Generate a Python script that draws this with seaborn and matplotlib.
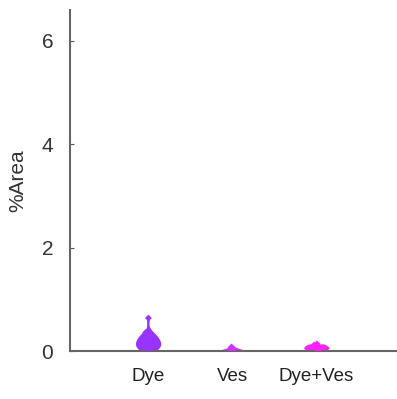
import matplotlib
matplotlib.use("Agg")
import matplotlib.pyplot as plt
import seaborn as sns
import pandas as pd
import numpy as np

categories = ["Dye", "Ves", "Dye+Ves"]
dye_vals = [0.0, 0.02, 0.04, 0.06, 0.08, 0.1, 0.12, 0.14, 0.16, 0.18, 0.2, 0.22, 0.25, 0.28, 0.3, 0.33, 0.36, 0.64]
ves_vals = [0.0, 0.005, 0.01, 0.015, 0.02, 0.02, 0.03, 0.04, 0.05, 0.06, 0.08]
dyeves_vals = [0.01, 0.03, 0.05, 0.06, 0.08, 0.1, 0.12, 0.14]
colors = ["#9933ff", "#cc33ff", "#ff22ff"]

df = pd.DataFrame({
    "group": ["Dye"] * len(dye_vals) + ["Ves"] * len(ves_vals) + ["Dye+Ves"] * len(dyeves_vals),
    "value": dye_vals + ves_vals + dyeves_vals,
})

np.random.seed(3)
plt.rcParams["font.family"] = ["Liberation Sans", "DejaVu Sans"]
fig = plt.figure(figsize=(3.97, 3.99), dpi=100)
ax = fig.add_axes([0.176, 0.12, 0.824, 0.855])

sns.violinplot(data=df, x="group", y="value", hue="group", order=categories,
               palette=colors, inner=None, cut=0, width=0.3, linewidth=0,
               saturation=1, density_norm="width", legend=False, ax=ax)
sns.stripplot(data=df, x="group", y="value", hue="group", order=categories,
              palette=colors, marker="D", size=3.5, jitter=0.03, legend=False, ax=ax)
ax.vlines([0], [0.36], [0.64], colors=colors[0], linewidth=1.2)

ax.set_ylim(0, 6.6)
ax.set_xlim(-0.93, 2.96)
ax.set_yticks([0, 2, 4, 6])
ax.set_xlabel("")
ax.set_ylabel("%Area", fontsize=15, color="#333333", labelpad=10)
ax.tick_params(axis="y", direction="in", length=3, colors="#555555", labelsize=15,
               labelcolor="#333333", pad=12)
ax.tick_params(axis="x", length=0, labelsize=13.5, labelcolor="#222222", pad=12)
for s in ["top", "right"]:
    ax.spines[s].set_visible(False)
for s in ["left", "bottom"]:
    ax.spines[s].set_color("#666666")
    ax.spines[s].set_linewidth(1.5)
ax.set_facecolor("white")
fig.savefig("out.png", dpi=100)
